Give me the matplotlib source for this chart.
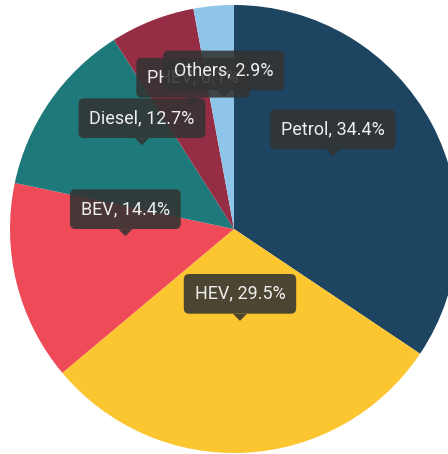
import numpy as np
import matplotlib.pyplot as plt
from matplotlib.patches import Polygon

labels = ['Petrol', 'HEV', 'BEV', 'Diesel', 'PHEV', 'Others']
shares = [34.4, 29.5, 14.4, 12.7, 6.1, 2.9]
colors = ['#1d4461', '#fbc630', '#ef4a57', '#1e7a7a', '#952d45', '#8fc5e9']

W, H = 448, 454
cx, cy = 234, H - 229
R = 224

fig = plt.figure(figsize=(W / 100, H / 100), dpi=100)
ax = fig.add_axes([0, 0, 1, 1])
ax.set_xlim(0, W)
ax.set_ylim(0, H)
ax.set_aspect('equal')
ax.axis('off')

ax.pie(shares, colors=colors, startangle=90, counterclock=False,
       radius=R, center=(cx, cy), frame=True)
ax.set_xlim(0, W)
ax.set_ylim(0, H)
ax.axis('off')

# tooltips: anchor at half radius, bubble above it
start = 0.0
total = sum(shares)
for lab, v in zip(labels, shares):
    mid = (start + v / 2) / total * 2 * np.pi
    start += v
    ax_x = cx + 0.5 * R * np.sin(mid)
    ax_y = cy + 0.5 * R * np.cos(mid)
    tip_y = ax_y + 20
    base_y = tip_y + 7
    tri = Polygon([[ax_x - 7, base_y], [ax_x + 7, base_y], [ax_x, tip_y]],
                  closed=True, fc='#333333', ec='none', alpha=0.88, zorder=5)
    ax.add_patch(tri)
    ax.text(ax_x, base_y + 20, f'{lab}, {v}%', ha='center', va='center',
            fontsize=13, family=['Roboto', 'DejaVu Sans'], color='#eeeeee', zorder=6,
            bbox=dict(boxstyle='round,pad=0.6,rounding_size=0.3', fc='#333333',
                      ec='none', alpha=0.88))

fig.savefig('out.png', dpi=100)
